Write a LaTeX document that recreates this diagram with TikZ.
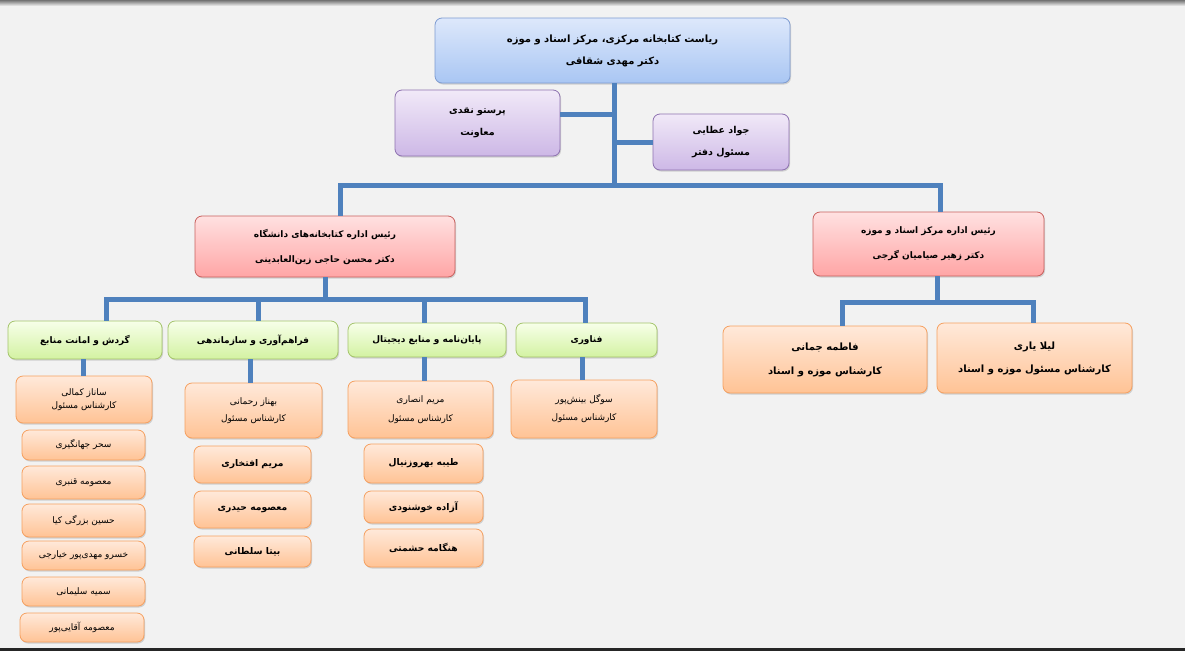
\documentclass[tikz,border=0pt]{standalone}
\usepackage{fontspec}
\newfontfamily\fa[Script=Arabic]{DejaVu Sans}
\TeXXeTstate=1
\usetikzlibrary{shadows,calc}
\newcommand{\RL}[1]{\beginR #1\endR}
\definecolor{bgc}{HTML}{F2F2F2}
\definecolor{bluetop}{HTML}{DDE8FB}
\definecolor{bluebot}{HTML}{A9C6F3}
\definecolor{bluebd}{HTML}{7D9BD1}
\definecolor{purtop}{HTML}{F1E9F8}
\definecolor{purbot}{HTML}{CDB8E6}
\definecolor{purbd}{HTML}{8E72B0}
\definecolor{redtop}{HTML}{FFE1E1}
\definecolor{redbot}{HTML}{FFA5A5}
\definecolor{redbd}{HTML}{C9615E}
\definecolor{grntop}{HTML}{F7FFE9}
\definecolor{grnbot}{HTML}{D3F2A2}
\definecolor{grnbd}{HTML}{A4C46B}
\definecolor{ortop}{HTML}{FFE9DA}
\definecolor{orbot}{HTML}{FFC395}
\definecolor{orbd}{HTML}{F5A060}
\definecolor{connc}{HTML}{4F81BD}
\tikzset{
  boldtxt/.style 2 args={font=\fa\bfseries\fontsize{#1}{#2}\selectfont},
  plaintxt/.style 2 args={font=\fa\fontsize{#1}{#2}\selectfont},
  box/.style={rounded corners=7pt, line width=0.8pt, align=center, inner sep=0pt,
    drop shadow={shadow xshift=1pt, shadow yshift=-1.5pt, opacity=0.3}},
  bluebox/.style={box, draw=bluebd, top color=bluetop, bottom color=bluebot},
  purbox/.style={box, draw=purbd, top color=purtop, bottom color=purbot},
  redbox/.style={box, draw=redbd, top color=redtop, bottom color=redbot},
  grnbox/.style={box, draw=grnbd, top color=grntop, bottom color=grnbot},
  orbox/.style={box, draw=orbd, top color=ortop, bottom color=orbot},
  conn/.style={draw=connc, line width=5pt},
  wh/.style 2 args={minimum width=#1pt, minimum height=#2pt}
}
\begin{document}
\begin{tikzpicture}[x=1pt,y=-1pt]
\useasboundingbox (0,0) rectangle (1185,651);
\fill[bgc] (0,0) rectangle (1185,651);
\shade[top color=black!55, bottom color=bgc] (0,0) rectangle (1185,6);
\fill[black!85] (0,648) rectangle (1185,651);

% coordinates for bars
\coordinate (hub) at (614,185);
\coordinate (barL) at (325,299);
\coordinate (barR) at (937,302);

% nodes
\node[bluebox, wh={355}{65}, boldtxt={10}{22}] (top) at (612.5,50.5)
  {\RL{ریاست کتابخانه مرکزی، مرکز اسناد و موزه}\\\RL{دکتر مهدی شقاقی}};
\node[purbox, wh={165}{66}, boldtxt={9.5}{22}] (pL) at (477.5,123)
  {\RL{پرستو نقدی}\\\RL{معاونت}};
\node[purbox, wh={136}{56}, boldtxt={9.5}{22}] (pR) at (721,142)
  {\RL{جواد عطایی}\\\RL{مسئول دفتر}};
\node[redbox, wh={260}{61}, boldtxt={9}{25}] (rL) at (325,246.5)
  {\RL{رئیس اداره کتابخانه‌های دانشگاه}\\\RL{دکتر محسن حاجی زین‌العابدینی}};
\node[redbox, wh={231}{64}, boldtxt={9}{25}] (rR) at (928.5,244)
  {\RL{رئیس اداره مرکز اسناد و موزه}\\\RL{دکتر زهیر صیامیان گرجی}};

\node[grnbox, wh={154}{38}, boldtxt={9}{11}] (g1) at (85,340) {\RL{گردش و امانت منابع}};
\node[grnbox, wh={170}{38}, boldtxt={9}{11}] (g2) at (253,340) {\RL{فراهم‌آوری و سازماندهی}};
\node[grnbox, wh={158}{34}, boldtxt={9}{11}] (g3) at (427,340) {\RL{پایان‌نامه و منابع دیجیتال}};
\node[grnbox, wh={141}{34}, boldtxt={9}{11}] (g4) at (586.5,340) {\RL{فناوری}};

\node[orbox, wh={136}{47}, plaintxt={9}{13}] (o11) at (84,399.5)
  {\RL{ساناز کمالی}\\\RL{کارشناس مسئول}};
\node[orbox, wh={123}{30}, plaintxt={9}{10}] (o12) at (83.5,445) {\RL{سحر جهانگیری}};
\node[orbox, wh={123}{33}, plaintxt={9}{10}] (o13) at (83.5,482.5) {\RL{معصومه قنبری}};
\node[orbox, wh={123}{33}, plaintxt={9}{10}] (o14) at (83.5,520.5) {\RL{حسین بزرگی کیا}};
\node[orbox, wh={123}{29}, plaintxt={9}{10}] (o15) at (83.5,555.5) {\RL{خسرو مهدی‌پور خیارجی}};
\node[orbox, wh={123}{29}, plaintxt={9}{10}] (o16) at (83.5,591.5) {\RL{سمیه سلیمانی}};
\node[orbox, wh={124}{29}, plaintxt={9}{10}] (o17) at (82,627.5) {\RL{معصومه آقایی‌پور}};

\node[orbox, wh={137}{55}, plaintxt={9}{17}] (o21) at (253.5,410.5)
  {\RL{بهناز رحمانی}\\\RL{کارشناس مسئول}};
\node[orbox, wh={117}{37}, boldtxt={9.2}{11}] (o22) at (252.5,464.5) {\RL{مریم افتخاری}};
\node[orbox, wh={117}{37}, boldtxt={9.2}{11}] (o23) at (252.5,509.5) {\RL{معصومه حیدری}};
\node[orbox, wh={117}{31}, boldtxt={9.2}{11}] (o24) at (252.5,551.5) {\RL{بیتا سلطانی}};

\node[orbox, wh={145}{57}, plaintxt={9}{19}] (o31) at (420.5,409.5)
  {\RL{مریم انصاری}\\\RL{کارشناس مسئول}};
\node[orbox, wh={119}{39}, boldtxt={9.2}{11}] (o32) at (423.5,463.5) {\RL{طیبه بهروزنیال}};
\node[orbox, wh={119}{32}, boldtxt={9.2}{11}] (o33) at (423.5,507) {\RL{آزاده خوشنودی}};
\node[orbox, wh={119}{38}, boldtxt={9.2}{11}] (o34) at (423.5,548) {\RL{هنگامه حشمتی}};

\node[orbox, wh={146}{58}, plaintxt={9}{18}] (o41) at (584,409)
  {\RL{سوگل بینش‌پور}\\\RL{کارشناس مسئول}};

\node[orbox, wh={204}{67}, boldtxt={10}{24}] (fj) at (825,359.5)
  {\RL{فاطمه جمانی}\\\RL{کارشناس موزه و اسناد}};
\node[orbox, wh={195}{70}, boldtxt={10}{23}] (ly) at (1034.5,358)
  {\RL{لیلا یاری}\\\RL{کارشناس مسئول موزه و اسناد}};

% connectors
\draw[conn] ([xshift=1.5pt]top.south) -- (hub);
\draw[conn] ([yshift=9pt]pL.east) -- ([yshift=9pt]pL.east -| hub);
\draw[conn] (pR.west) -- (pR.west -| hub);
\draw[conn] ([xshift=15pt]rL.north) |- (hub) -| ([xshift=11.5pt]rR.north);

\draw[conn] (rL.south) -- (barL);
\draw[conn] ([xshift=21pt]g1.north) |- (barL) -| ([xshift=-1.5pt]g4.north);
\draw[conn] ([xshift=5pt]g2.north) -- ([xshift=5pt]g2.north |- barL);
\draw[conn] ([xshift=-3pt]g3.north) -- ([xshift=-3pt]g3.north |- barL);

\draw[conn] ([xshift=-2pt]g1.south) -- ([xshift=-2pt]g1.south |- o11.north);
\draw[conn] ([xshift=-3pt]g2.south) -- ([xshift=-3pt]g2.south |- o21.north);
\draw[conn] ([xshift=-3pt]g3.south) -- ([xshift=-3pt]g3.south |- o31.north);
\draw[conn] ([xshift=-4.5pt]g4.south) -- ([xshift=-4.5pt]g4.south |- o41.north);

\draw[conn] ([xshift=8.5pt]rR.south) -- (barR);
\draw[conn] ([xshift=17pt]fj.north) |- (barR) -| ([xshift=-1.5pt]ly.north);
\end{tikzpicture}
\end{document}
